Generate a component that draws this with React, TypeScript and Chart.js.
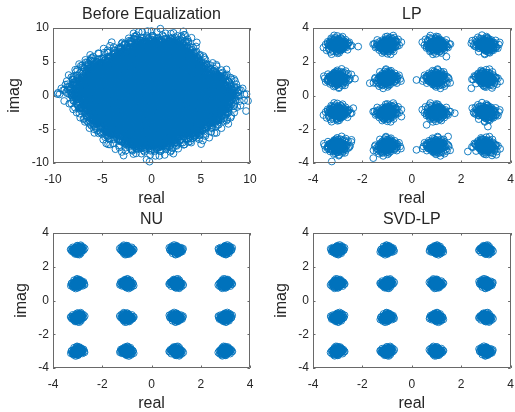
import React, { useEffect, useRef } from "react";
import { Chart, registerables } from "chart.js";

Chart.register(...registerables);
Chart.defaults.font.family = "'Liberation Sans', Arial, Helvetica, sans-serif";

// ---------------- data ----------------
// 16-QAM ideal symbol grid
const qamRe = [-3, -1, 1, 3];
const qamIm = [3, 1, -1, -3];

// hand-read scatter offsets (shape of one noisy cluster, unit spread)
const noiseRe = [0.12, -0.85, 0.43, 1.21, -0.33, 0.67, -1.42, 0.05, 0.91, -0.58, 0.27, -1.05, 1.63, -0.19, 0.74, -0.92, 0.38, -0.41, 1.08, -1.71, 0.16, -0.66, 0.55, 1.36, -0.24, 0.83, -1.18, 0.31, -0.07, 1.92, -0.49, 0.62, -1.33, 0.21, 0.97, -0.77, 0.48, -1.56, 1.17, -0.14, 0.03, -0.36, 0.88, -1.01, 0.59, -0.61, 1.49, -1.88];
const noiseIm = [-0.47, 0.22, 1.14, -0.63, 0.85, -1.27, 0.31, 1.76, -0.12, -0.94, 0.58, 1.02, 0.07, -1.58, -0.35, 0.69, -0.81, 1.39, 0.46, -0.18, -1.12, 1.61, 0.94, 0.25, -0.72, -1.84, 0.11, -0.29, 0.77, -0.53, 1.23, 0.36, -0.97, 0.64, -1.41, -0.06, 1.87, 0.52, -0.88, 0.19, -1.66, -0.23, 1.31, 0.41, -0.59, 0.98, -1.08, -0.15];

// "Before Equalization" cloud: local centres of the received cloud
const cloudRe = [
  -1.0, 0.6, 2.2,
  -3.0, -1.4, 0.2, 1.8, 3.3,
  -5.4, -3.8, -2.2, -0.6, 1.0, 2.6, 4.2,
  -6.4, -4.8, -3.2, -1.6, 0.0, 1.6, 3.2, 4.8, 6.4,
  -7.2, -5.6, -4.0, -2.4, -0.8, 0.8, 2.4, 4.0, 5.6, 7.3,
  -6.0, -4.4, -2.8, -1.2, 0.4, 2.0, 3.6, 5.2, 7.0,
  -5.2, -3.6, -2.0, -0.4, 1.2, 2.8, 4.4, 6.0,
  -3.8, -2.2, -0.6, 1.0, 2.6, 4.0,
  -1.8, -0.2, 1.4,
];
const cloudIm = [
  7.2, 7.2, 7.2,
  5.6, 5.6, 5.6, 5.6, 5.6,
  4.0, 4.0, 4.0, 4.0, 4.0, 4.0, 4.0,
  2.2, 2.2, 2.2, 2.2, 2.2, 2.2, 2.2, 2.2, 2.2,
  0.4, 0.4, 0.4, 0.4, 0.4, 0.4, 0.4, 0.4, 0.4, 0.4,
  -1.4, -1.4, -1.4, -1.4, -1.4, -1.4, -1.4, -1.4, -1.4,
  -3.2, -3.2, -3.2, -3.2, -3.2, -3.2, -3.2, -3.2,
  -4.9, -4.9, -4.9, -4.9, -4.9, -4.9,
  -6.6, -6.6, -6.6,
];
const cloudSpread = [1.25, 0.85, 0.5];
const cloudOutRe = [-9.5, 0.9, -0.2, -0.5, 9.8, 9.6, -1.3, 3.3, -4.6, 7.8];
const cloudOutIm = [0.4, 9.9, -9.8, -9.5, -0.8, -2.3, 9.4, 9.0, -7.1, -4.2];

// equalizer outputs: cluster spreads and stray points
const lpSpread = [0.3, 0.22, 0.15, 0.08];
const nuSpread = [0.15, 0.1, 0.05];
const svdSpread = [0.15, 0.1, 0.05];
const lpOutRe = [0.19, -1.56, -2.17, 1.4, 0.19, -2.3, 2.41, -2.37, -0.42, 1.74, 3.08, 0.6, -2.44, -3.24, 2.27, 3.42, -1.7, 1.47, 2.41];
const lpOutIm = [-3.22, -3.71, 2.9, 2.3, 0.92, 1.0, 0.43, -0.75, -1.25, -1.05, -1.84, -1.74, -2.63, -3.91, -3.32, -3.51, 0.73, -2.43, 3.09];

const beforeTicks = [-10, -5, 0, 5, 10];
const qamTicks = [-4, -2, 0, 2, 4];
const titles = ["Before Equalization", "LP", "NU", "SVD-LP"];

// ---------------- helpers ----------------
type P = { x: number; y: number };

const gridRe: number[] = [];
const gridIm: number[] = [];
qamIm.forEach((im) => qamRe.forEach((re) => { gridRe.push(re); gridIm.push(im); }));

function scatterAround(cRe: number[], cIm: number[], spreads: number[], shift: number): P[] {
  const pts: P[] = [];
  cRe.forEach((re, k) => {
    spreads.forEach((s, j) => {
      const v = (k + shift + j * 3) % 8;
      const fx = v % 2 ? -1 : 1;
      const fy = v % 4 >= 2 ? -1 : 1;
      const swap = v >= 4;
      noiseRe.forEach((nr, i) => {
        const ni = noiseIm[i];
        const a = swap ? ni : nr;
        const b = swap ? nr : ni;
        pts.push({ x: re + fx * a * s, y: cIm[k] + fy * b * s });
      });
    });
  });
  return pts;
}
function pairs(re: number[], im: number[]): P[] {
  return re.map((x, i) => ({ x, y: im[i] }));
}

const BLUE = "rgba(0,114,189,0.9)";
const TEXT = "rgb(38,38,38)";
const BOX = "rgb(105,105,105)";

const matlabBox = {
  id: "matlabBox",
  afterDatasetsDraw(chart: any) {
    const { ctx, chartArea } = chart;
    const { left, right, top, bottom } = chartArea;
    const xs = chart.scales.x;
    const ys = chart.scales.y;
    const tl = 2.5;
    ctx.save();
    ctx.strokeStyle = BOX;
    ctx.lineWidth = 1;
    ctx.beginPath();
    ctx.rect(Math.round(left) + 0.5, Math.round(top) + 0.5, Math.round(right - left) - 1, Math.round(bottom - top) - 1);
    (xs.ticks || []).forEach((t: any) => {
      const px = Math.round(xs.getPixelForValue(t.value)) + 0.5;
      ctx.moveTo(px, bottom);
      ctx.lineTo(px, bottom - tl);
      ctx.moveTo(px, top);
      ctx.lineTo(px, top + tl);
    });
    (ys.ticks || []).forEach((t: any) => {
      const py = Math.round(ys.getPixelForValue(t.value)) + 0.5;
      ctx.moveTo(left, py);
      ctx.lineTo(left + tl, py);
      ctx.moveTo(right, py);
      ctx.lineTo(right - tl, py);
    });
    ctx.stroke();
    ctx.restore();
  },
};

type PanelProps = {
  left: number; top: number; width: number; height: number;
  title: string; data: P[]; ticks: number[]; padRight: number; yTitlePad: number;
};

function Panel({ left, top, width, height, title, data, ticks, padRight, yTitlePad }: PanelProps) {
  const ref = useRef<HTMLCanvasElement>(null);
  useEffect(() => {
    const lo = ticks[0];
    const hi = ticks[ticks.length - 1];
    const chart = new Chart(ref.current as HTMLCanvasElement, {
      type: "scatter",
      data: {
        datasets: [
          {
            data,
            pointStyle: "circle",
            pointRadius: 3.4,
            pointHoverRadius: 3.4,
            pointBorderWidth: 1,
            borderWidth: 1,
            borderColor: BLUE,
            pointBorderColor: BLUE,
            backgroundColor: "rgba(0,0,0,0)",
            pointBackgroundColor: "rgba(0,0,0,0)",
            clip: false as any,
          } as any,
        ],
      },
      options: {
        responsive: false,
        animation: false,
        events: [],
        layout: { padding: { left: 0, right: padRight, top: 0, bottom: 0 } },
        plugins: {
          legend: { display: false },
          tooltip: { enabled: false },
          title: {
            display: true,
            text: title,
            fullSize: false,
            color: TEXT,
            font: { size: 16, weight: "normal" },
            padding: { top: 5.4, bottom: 3.4 },
          },
        },
        scales: {
          x: {
            type: "linear",
            min: lo,
            max: hi,
            afterBuildTicks: (s: any) => { s.ticks = ticks.map((v) => ({ value: v })); },
            afterFit: (s: any) => { s.height = 49; s.paddingLeft = 0; s.paddingRight = 0; },
            ticks: { color: TEXT, font: { size: 12 }, padding: 9, maxRotation: 0, autoSkip: false },
            grid: { display: false, drawTicks: false },
            border: { display: false },
            title: { display: true, text: "real", color: TEXT, font: { size: 16 }, padding: { top: 0, bottom: 3.4 } },
          },
          y: {
            type: "linear",
            min: lo,
            max: hi,
            afterBuildTicks: (s: any) => { s.ticks = ticks.map((v) => ({ value: v })); },
            afterFit: (s: any) => { s.width = 53; s.paddingTop = 0; s.paddingBottom = 0; },
            ticks: { color: TEXT, font: { size: 12 }, padding: 4, autoSkip: false },
            grid: { display: false, drawTicks: false },
            border: { display: false },
            title: { display: true, text: "imag", color: TEXT, font: { size: 16 }, padding: { top: yTitlePad, bottom: 0 } },
          },
        },
      } as any,
      plugins: [matlabBox],
    });
    return () => chart.destroy();
  }, []);
  return (
    <canvas
      ref={ref}
      width={width}
      height={height}
      style={{ position: "absolute", left, top, width, height }}
    />
  );
}

const beforeData = [...scatterAround(cloudRe, cloudIm, cloudSpread, 0), ...pairs(cloudOutRe, cloudOutIm)];
const lpData = [...scatterAround(gridRe, gridIm, lpSpread, 1), ...pairs(lpOutRe, lpOutIm)];
const nuData = scatterAround(gridRe, gridIm, nuSpread, 2);
const svdData = scatterAround(gridRe, gridIm, svdSpread, 5);

export default function App() {
  return (
    <div style={{ position: "fixed", left: 0, top: 0, width: 515, height: 412, overflow: "hidden", background: "#fff" }}>
      <Panel left={0} top={0} width={260} height={212} title={titles[0]} data={beforeData} ticks={beforeTicks} padRight={10} yTitlePad={5.4} />
      <Panel left={260} top={0} width={255} height={212} title={titles[1]} data={lpData} ticks={qamTicks} padRight={4} yTitlePad={11.9} />
      <Panel left={0} top={205} width={260} height={212} title={titles[2]} data={nuData} ticks={qamTicks} padRight={10} yTitlePad={11.9} />
      <Panel left={260} top={205} width={255} height={212} title={titles[3]} data={svdData} ticks={qamTicks} padRight={4} yTitlePad={11.9} />
    </div>
  );
}
